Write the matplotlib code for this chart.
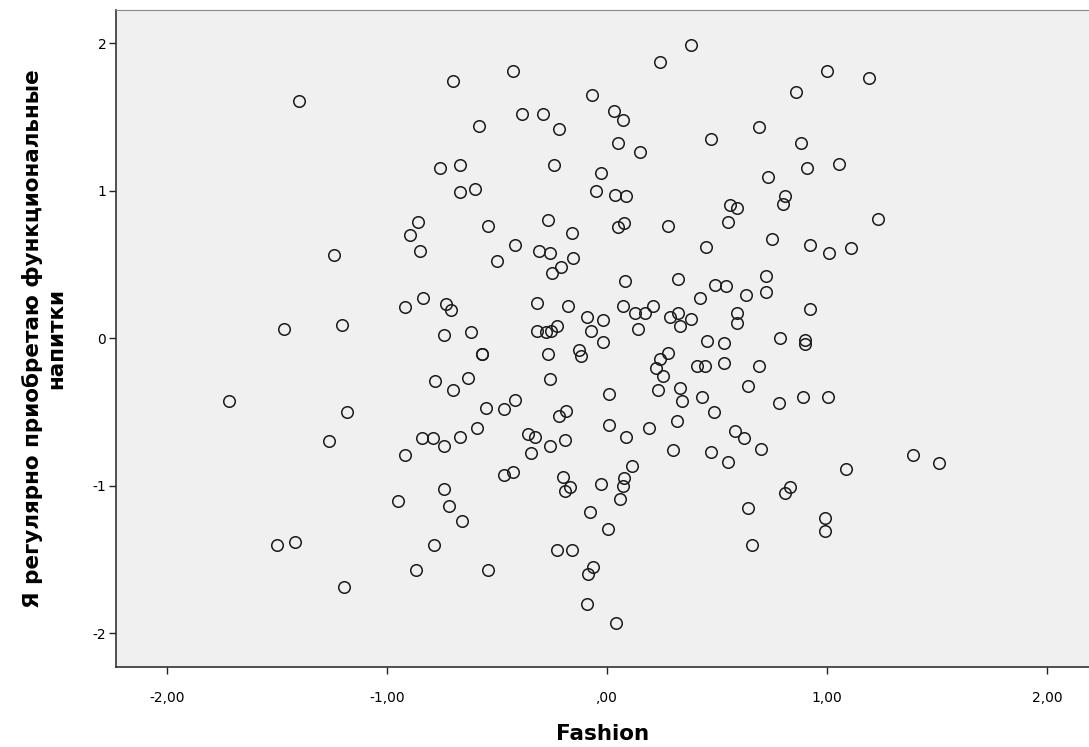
import numpy as np
import matplotlib
matplotlib.use("Agg")
import matplotlib.pyplot as plt
import matplotlib.ticker as ticker

fashion = [
    -1.40,
    -0.43, -0.70, -0.07, -0.385, -0.29, -0.22, -0.58, -0.76, -0.67, -0.24,
    -0.03, -0.05, -0.67, -0.60, -0.86, -0.54, -0.27, -0.16, -0.895,
    0.38, 0.24, 1.00, 0.86, 0.03, 0.07, 0.69, 0.47, 0.05, 0.88,
    0.15, 1.055, 0.91, 0.73, 0.035, 0.085, 0.81, 0.80, 0.56, 0.59,
    0.55, 0.077, 0.05, 0.276,
    1.19, 1.23,
    -1.24, -1.47, -1.205, -1.72, -1.18, -1.265,
    -0.85, -0.42, -0.31, -0.26, -0.50, -0.155, -0.21, -0.25, -0.92, -0.835,
    -0.73, -0.71, -0.32, -0.18, -0.09, -0.02, -0.074, -0.017, -0.23, -0.32,
    -0.28, -0.255, -0.74, -0.62, -0.57, -0.57, -0.27, -0.13, -0.12, -0.78,
    -0.70, -0.63, -0.26, 0.01, -0.55, -0.47, -0.42, -0.22, -0.185, 0.01,
    -0.59, -0.84, -0.79, -0.74, -0.67, -0.36, -0.33, -0.26, -0.19, -0.92,
    -0.345,
    0.45, 0.75, 0.92, 1.01, 1.11, 0.08, 0.32, 0.72, 0.72, 0.49,
    0.54, 0.63, 0.42, 0.92, 0.07, 0.126, 0.17, 0.21, 0.32, 0.285,
    0.33, 0.38, 0.59, 0.59, 0.14, 0.455, 0.53, 0.785, 0.90, 0.90,
    0.276, 0.24, 0.22, 0.255, 0.23, 0.41, 0.445, 0.53, 0.69, 0.64,
    0.33, 0.34, 0.43, 0.485, 0.78, 0.89, 1.005, 0.085, 0.19, 0.317,
    0.58, 0.62, 0.30, 0.47, 0.70,
    -0.47, -0.43, -0.20, -0.17, -0.19, -0.03, -0.74, -0.95, -0.72, -0.66,
    -0.077, 0.003, -0.785, -0.87, -0.54, -0.226, -0.158, -0.065, -0.086, -0.09,
    0.55, 0.114, 0.077, 0.07, 0.06, 1.085, 0.83, 0.81, 0.64, 0.99,
    0.99, 0.66, 0.04,
    1.39, 1.51,
    -1.50, -1.42, -1.195,
]
napitki = [
    1.61,
    1.81, 1.74, 1.65, 1.52, 1.52, 1.42, 1.44, 1.15, 1.17, 1.17,
    1.12, 1.00, 0.99, 1.01, 0.79, 0.76, 0.80, 0.71, 0.70,
    1.99, 1.87, 1.81, 1.67, 1.54, 1.48, 1.43, 1.35, 1.32, 1.32,
    1.26, 1.18, 1.15, 1.09, 0.97, 0.96, 0.965, 0.91, 0.90, 0.88,
    0.79, 0.78, 0.755, 0.76,
    1.765, 0.81,
    0.56, 0.06, 0.09, -0.43, -0.50, -0.70,
    0.59, 0.63, 0.59, 0.58, 0.52, 0.54, 0.48, 0.44, 0.21, 0.27,
    0.23, 0.19, 0.24, 0.22, 0.14, 0.12, 0.05, -0.025, 0.08, 0.05,
    0.04, 0.05, 0.02, 0.04, -0.11, -0.11, -0.11, -0.08, -0.12, -0.29,
    -0.355, -0.27, -0.28, -0.38, -0.475, -0.48, -0.42, -0.53, -0.495, -0.59,
    -0.61, -0.675, -0.675, -0.73, -0.67, -0.65, -0.67, -0.73, -0.69, -0.79,
    -0.78,
    0.615, 0.67, 0.63, 0.575, 0.61, 0.39, 0.40, 0.42, 0.31, 0.36,
    0.35, 0.29, 0.27, 0.20, 0.22, 0.17, 0.17, 0.22, 0.17, 0.14,
    0.08, 0.13, 0.17, 0.10, 0.06, -0.02, -0.035, 0.00, -0.015, -0.04,
    -0.10, -0.14, -0.205, -0.26, -0.35, -0.19, -0.19, -0.17, -0.19, -0.325,
    -0.34, -0.43, -0.40, -0.50, -0.44, -0.40, -0.40, -0.67, -0.61, -0.56,
    -0.63, -0.68, -0.76, -0.77, -0.755,
    -0.925, -0.91, -0.94, -1.01, -1.04, -0.99, -1.02, -1.105, -1.14, -1.24,
    -1.18, -1.295, -1.405, -1.57, -1.57, -1.44, -1.44, -1.555, -1.60, -1.80,
    -0.84, -0.87, -0.95, -1.005, -1.09, -0.89, -1.01, -1.05, -1.15, -1.22,
    -1.31, -1.40, -1.93,
    -0.79, -0.85,
    -1.40, -1.38, -1.69,
]

x_ticks = [-2, -1, 0, 1, 2]
x_tick_labels = ["-2,00", "-1,00", ",00", "1,00", "2,00"]
y_ticks = [-2, -1, 0, 1, 2]

# --- Рисунок ---
fig = plt.figure(figsize=(10.89, 7.47), dpi=100)
ax = fig.add_axes([116 / 1089, 1 - 667 / 747, 973 / 1089, 657 / 747])
ax.set_facecolor("#f0f0f0")

ax.plot(fashion, napitki, linestyle="none", marker="o", markersize=8.3,
        markerfacecolor="none", markeredgecolor="#1a1a1a", markeredgewidth=1.1)

ax.set_xlim(-2.232, 2.19)
ax.set_ylim(-2.23, 2.224)

ax.set_xticks(x_ticks)
ax.set_xticklabels(x_tick_labels)
ax.set_yticks(y_ticks)
ax.yaxis.set_major_formatter(ticker.FuncFormatter(lambda v, _: f"{v:.0f}"))
ax.tick_params(direction="out", length=5, width=1, colors="#222222",
               labelsize=10, labelcolor="black")
ax.tick_params(axis="x", pad=12)
ax.tick_params(axis="y", pad=2)

for side in ["left", "bottom"]:
    ax.spines[side].set_color("#333333")
    ax.spines[side].set_linewidth(1.2)
ax.spines["top"].set_color("#888888")
ax.spines["right"].set_visible(False)

ax.set_xlabel("Fashion", fontsize=15.5, fontweight="bold", labelpad=14)
ax.set_ylabel("Я регулярно приобретаю функциональные\nнапитки",
              fontsize=15.5, fontweight="bold", labelpad=19)

fig.savefig("out.png", dpi=100, facecolor="white")
